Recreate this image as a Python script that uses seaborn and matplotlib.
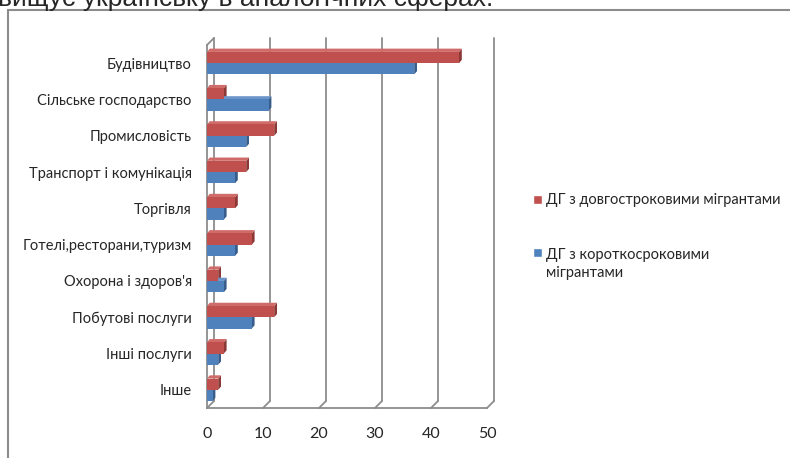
import pandas as pd
import matplotlib
matplotlib.use('Agg')
import matplotlib.pyplot as plt
import matplotlib.transforms as mtransforms
from matplotlib.patches import Polygon, Rectangle
import seaborn as sns

# data
categories = ['Будівництво', 'Сільське господарство', 'Промисловість', 'Транспорт і комунікація',
              'Торгівля', 'Готелі,ресторани,туризм', "Охорона і здоров'я", 'Побутові послуги',
              'Інші послуги', 'Інше']
long_term = [45, 3, 12, 7, 5, 8, 2, 12, 3, 2]
short_term = [37, 11, 7, 5, 3, 5, 3, 8, 2, 1]
series_names = ['ДГ з довгостроковими мігрантами', 'ДГ з короткосроковими\nмігрантами']
x_ticks = [0, 10, 20, 30, 40, 50]

red = '#C0504D'
blue = '#4F81BD'
red_side = '#8C3836'
blue_side = '#385D8A'
red_top = '#CF6B68'
blue_top = '#6B95CA'
grid_col = '#8C8C8C'

df = pd.DataFrame({
    'category': categories * 2,
    'value': long_term + short_term,
    'series': [series_names[0]] * len(categories) + [series_names[1]] * len(categories),
})

sns.set_style('white')
plt.rcParams['font.family'] = ['Lato', 'DejaVu Sans']

fig = plt.figure(figsize=(7.9, 4.58), dpi=100)
W, H = 790, 458
ax = fig.add_axes([207 / W, 1 - 408 / H, (487 - 207) / W, (408 - 45) / H])

sns.barplot(data=df, x='value', y='category', hue='series', orient='h',
            palette=[red, blue], width=0.62, saturation=1, ax=ax, linewidth=0,
            order=categories, hue_order=series_names, legend=False, zorder=3)

ax.set_xlim(0, 50)
ax.set_ylim(len(categories) - 0.5, -0.5)

# pseudo 3d faces for the bars
dx, dy = 0.5, 0.09
for p in list(ax.patches):
    x0, y0 = p.get_x(), p.get_y()
    w, h = p.get_width(), p.get_height()
    is_red = p.get_facecolor()[0] > 0.6
    side = Polygon([(x0 + w, y0 + h), (x0 + w, y0), (x0 + w + dx, y0 - dy), (x0 + w + dx, y0 + h - dy)],
                   closed=True, facecolor=red_side if is_red else blue_side, edgecolor='none', zorder=2)
    top = Polygon([(x0, y0), (x0 + w, y0), (x0 + w + dx, y0 - dy), (x0 + dx, y0 - dy)],
                  closed=True, facecolor=red_top if is_red else blue_top, edgecolor='none', zorder=2)
    ax.add_patch(side)
    ax.add_patch(top)

# back wall gridlines, shifted up and right
off = mtransforms.ScaledTranslation(7 / 100, 7 / 100, fig.dpi_scale_trans)
wall = ax.get_xaxis_transform() + off
for xv in x_ticks:
    ax.plot([xv, xv], [0, 1], color=grid_col, lw=1.3, transform=wall, clip_on=False, zorder=1)
    ax.plot([xv, xv + 7 * 50 / 280], [0, 7 / 363], color=grid_col, lw=1.3,
            transform=ax.get_xaxis_transform(), clip_on=False, zorder=1)
# top edge of the side wall
ax.plot([0, 7 * 50 / 280], [1, 1 + 7 / 363], color=grid_col, lw=1.3,
        transform=ax.get_xaxis_transform(), clip_on=False, zorder=1)

for s in ['top', 'right']:
    ax.spines[s].set_visible(False)
for s in ['left', 'bottom']:
    ax.spines[s].set_color(grid_col)
    ax.spines[s].set_linewidth(1.3)

ax.set_xticks(x_ticks)
ax.set_xticklabels([str(v) for v in x_ticks], fontsize=11.5)
ax.set_yticks(range(len(categories)))
ax.set_yticklabels(categories, fontsize=10.5)
ax.tick_params(axis='y', length=0, pad=11)
ax.set_yticks([i - 0.5 for i in range(len(categories) + 1)], minor=True)
ax.tick_params(axis='y', which='minor', length=4, color=grid_col, width=1.2, direction='out')
ax.tick_params(axis='x', length=5, color=grid_col, width=1.2, direction='out', pad=9)
ax.set_xlabel('')
ax.set_ylabel('')

# legend drawn by hand to match the layout
fig.patches.append(Rectangle((533 / W, 1 - 204 / H), 9 / W, 9 / H, facecolor=red,
                             transform=fig.transFigure, figure=fig))
fig.text(546 / W, 1 - 200 / H, series_names[0], fontsize=10.5, va='center', ha='left')
fig.patches.append(Rectangle((533 / W, 1 - 257 / H), 9 / W, 9 / H, facecolor=blue,
                             transform=fig.transFigure, figure=fig))
fig.text(546 / W, 1 - 264 / H, series_names[1], fontsize=10.5, va='center', ha='left',
         linespacing=1.45)

# outer chart border
fig.patches.append(Rectangle((8 / W, -0.05), 1, 1 - 10 / H + 0.05, fill=False,
                             edgecolor='#8C8C8C', lw=1.5, transform=fig.transFigure, figure=fig))

# cut off line of text above the chart
fig.text(-2 / W, 1 - 6 / H, 'вищує українську в аналогічних сферах.', fontsize=19,
         family=['Liberation Sans', 'DejaVu Sans'], va='baseline', ha='left')

fig.savefig('out.png', dpi=100, facecolor='white')
